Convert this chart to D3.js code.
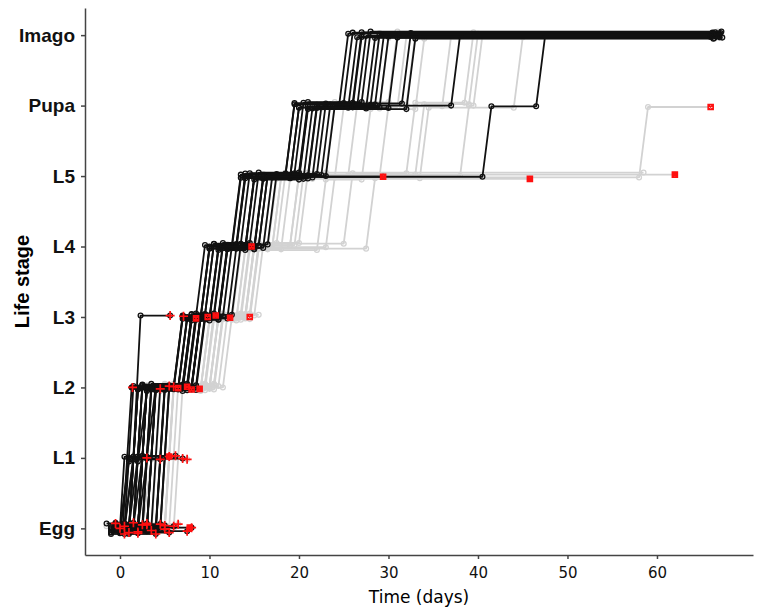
<!DOCTYPE html>
<html>
<head>
<meta charset="utf-8">
<script src="https://cdn.jsdelivr.net/npm/d3@7"></script>
<style>
  body { margin: 0; background: #fff; }
  svg { display: block; }
  .axis path, .axis line { stroke: #444; stroke-width: 1.5; }
  .ylab text { font-family: "Liberation Sans", Arial, sans-serif; font-size: 19px; font-weight: bold; fill: #111; }
  .xlab text { font-family: "DejaVu Sans", Verdana, sans-serif; font-size: 15px; fill: #111; }
</style>
</head>
<body>
<div id="chart"></div>
<script>
// life stages on the y axis, days on the x axis
const stageNames = ["Egg", "L1", "L2", "L3", "L4", "L5", "Pupa", "Imago"];
const dayTicks = [0, 10, 20, 30, 40, 50, 60];

// each record: p = [day first seen, stage] pairs, end = last day seen,
// dead = death marker ("" if alive at end), o = small vertical scatter of the record
const blackRuns = [
  {p: [[-1,0],[1.5,2],[7,3],[9.5,4],[13.5,5],[19.5,6],[25.5,7]], end: 66.8, dead: "", o: 0.02},
  {p: [[-0.5,0],[2,2],[7.5,3],[10,4],[14,5],[20,6],[26.5,7]], end: 67.0, dead: "", o: -0.03},
  {p: [[0,0],[2.5,2],[8,3],[10.5,4],[14.5,5],[20.5,6],[27,7]], end: 66.5, dead: "", o: 0.04},
  {p: [[0.5,0],[3,2],[8,3],[11,4],[15,5],[21,6],[27.5,7]], end: 66.9, dead: "", o: -0.01},
  {p: [[-0.5,0],[3.5,2],[8.5,3],[11.5,4],[15.5,5],[21,6],[28,7]], end: 67.2, dead: "", o: 0.05},
  {p: [[0,0],[4,2],[8.5,3],[12,4],[16,5],[21.5,6],[28.5,7]], end: 66.4, dead: "", o: -0.04},
  {p: [[1,0],[4.5,2],[9,3],[12.5,4],[16.5,5],[22,6],[29,7]], end: 67.0, dead: "", o: 0.01},
  {p: [[0.5,0],[5,2],[9,3],[13,4],[17,5],[22.5,6],[30,7]], end: 66.6, dead: "", o: -0.02},
  {p: [[1,0],[5.5,2],[9.5,3],[13.5,4],[17.5,5],[23,6],[32.5,7]], end: 67.1, dead: "", o: 0.03},
  {p: [[-1,0],[1,1],[3,2],[8,3],[11,4],[15,5],[21,6],[33,7]], end: 66.3, dead: "", o: -0.05},
  {p: [[0,0],[2,2],[7.5,3],[10,4],[14,5],[24,6],[38,7]], end: 66.8, dead: "", o: 0.0},
  {p: [[0.5,0],[3,2],[8,3],[11,4],[15,5],[41.5,6],[47.5,7]], end: 66.9, dead: "", o: -0.01},
  {p: [[-0.5,0],[2.5,2],[8,3],[10.5,4],[14,5],[19.5,6],[26,7]], end: 66.2, dead: "", o: 0.035},
  {p: [[1.5,0],[5,2],[9.5,3],[12,4],[16,5],[22,6],[31,7]], end: 67.3, dead: "", o: -0.035},
  {p: [[0,0],[0.5,1],[4,2],[9,3],[12,4],[16.5,5],[23.5,6],[29.5,7]], end: 66.7, dead: "", o: 0.015},
  {p: [[-1,0],[2,2],[7,3],[10,4],[13.5,5],[20,6],[27,7]], end: 66.0, dead: "", o: -0.025},
  {p: [[0,0],[3,2],[8.5,3],[12,4],[16,5]], end: 29.4, dead: "x", o: -0.01},
  {p: [[0.5,0],[4,2],[9,3],[11.5,4]], end: 14.7, dead: "x", o: 0.0},
  {p: [[-0.5,0],[1.5,1],[2.3,3]], end: 5.6, dead: "+", o: 0.02},
  {p: [[-0.5,0],[3,2],[7,3]], end: 7.1, dead: "+", o: 0.01},
  {p: [[0,0],[3.5,2],[7.5,3]], end: 8.5, dead: "x", o: -0.02},
  {p: [[1,0],[4,2],[8,3]], end: 9.8, dead: "x", o: 0.0},
  {p: [[0.5,0],[5,2],[8.5,3]], end: 10.7, dead: "x", o: 0.02},
  {p: [[1,0],[5.5,2],[9,3]], end: 12.3, dead: "x", o: -0.01},
  {p: [[-1,0],[1.3,2]], end: 1.4, dead: "+", o: 0.0},
  {p: [[-0.5,0],[2,2]], end: 4.5, dead: "+", o: -0.02},
  {p: [[0,0],[2.5,2]], end: 5.5, dead: "+", o: 0.02},
  {p: [[0.5,0],[3,2]], end: 6.5, dead: "x", o: -0.01},
  {p: [[1,0],[4,2]], end: 7.5, dead: "x", o: 0.01},
  {p: [[0,0],[3.5,2]], end: 8.0, dead: "x", o: -0.03},
  {p: [[-0.5,0],[1,1]], end: 3.0, dead: "+", o: 0.0},
  {p: [[0,0],[1.5,1]], end: 4.5, dead: "+", o: -0.02},
  {p: [[0.5,0],[2,1]], end: 5.5, dead: "x", o: 0.02},
  {p: [[1,0],[3,1]], end: 7.0, dead: "+", o: -0.01},
  {p: [[0,0],[2.5,1]], end: 6.2, dead: "+", o: 0.03},
  {p: [[-1,0]], end: 0.0, dead: "+", o: 0.0},
  {p: [[-1,0]], end: 1.0, dead: "+", o: -0.06},
  {p: [[-0.5,0]], end: 2.5, dead: "+", o: 0.05},
  {p: [[0,0]], end: 3.5, dead: "+", o: -0.03},
  {p: [[0.5,0]], end: 4.5, dead: "+", o: 0.06},
  {p: [[0,0]], end: 5.5, dead: "+", o: -0.06},
  {p: [[1,0]], end: 6.0, dead: "+", o: 0.03},
  {p: [[1.5,0]], end: 7.5, dead: "+", o: -0.04},
  {p: [[2,0]], end: 8.0, dead: "+", o: 0.01},
  {p: [[-1.5,0]], end: -0.5, dead: "+", o: 0.07},
  {p: [[-1,0]], end: 0.5, dead: "+", o: -0.08},
  {p: [[-0.5,0]], end: 1.5, dead: "+", o: 0.08},
  {p: [[0,0]], end: 2.0, dead: "+", o: -0.07},
  {p: [[0.5,0]], end: 3.0, dead: "+", o: 0.07},
  {p: [[1,0]], end: 4.0, dead: "+", o: -0.08},
  {p: [[1.5,0]], end: 5.0, dead: "+", o: 0.04}
];

const greyRuns = [
  {p: [[-0.5,0],[3,2],[9,3],[12,4],[16,5],[21,6],[29,7]], end: 66.5, dead: "", o: 0.03},
  {p: [[0,0],[4,2],[10,3],[13.5,4],[17.5,5],[22.5,6],[30,7]], end: 67.0, dead: "", o: -0.04},
  {p: [[0.5,0],[5,2],[10.5,3],[14.5,4],[18.5,5],[24,6],[31,7]], end: 66.8, dead: "", o: 0.05},
  {p: [[1,0],[5.5,2],[11,3],[15,4],[18,5],[25,6],[32,7]], end: 66.7, dead: "", o: -0.02},
  {p: [[1.5,0],[6,2],[11,3],[15.5,4],[20,5],[26.5,6],[33,7]], end: 67.2, dead: "", o: 0.01},
  {p: [[0,0],[4.5,2],[10,3],[14,4],[23,5],[28,6],[34,7]], end: 66.4, dead: "", o: -0.05},
  {p: [[0.5,0],[5,2],[10.5,3],[15,4],[26,5],[33,6],[39.5,7]], end: 66.9, dead: "", o: 0.04},
  {p: [[1,0],[6,2],[11.5,3],[15.5,4],[28.5,5],[34.5,6],[45,7]], end: 67.1, dead: "", o: -0.03},
  {p: [[-1,0],[2.5,2],[9.5,3],[12.5,4],[17,5],[39,6],[40.5,7]], end: 66.6, dead: "", o: 0.0},
  {p: [[1,0],[6.5,2],[12,3],[16,4],[20.5,5],[34,6],[40,7]], end: 66.1, dead: "", o: 0.02},
  {p: [[0.5,0],[5.5,2],[11,3],[15,4],[24,5],[30,6],[37,7]], end: 66.9, dead: "", o: -0.01},
  {p: [[0,0],[4,2],[10,3],[14,4],[18,5],[59,6]], end: 66.0, dead: "x", o: -0.02},
  {p: [[1,0],[5,2],[11,3],[15,4],[20,5]], end: 62.0, dead: "x", o: 0.02},
  {p: [[0.5,0],[4.5,2],[10.5,3],[14.5,4],[19,5]], end: 45.8, dead: "x", o: -0.04},
  {p: [[1,0],[6,2],[11.5,3],[15.5,4],[21,5]], end: 58.5, dead: "", o: 0.05},
  {p: [[1.5,0],[7,2],[12.5,3]], end: 14.5, dead: "x", o: 0.0},
  {p: [[1,0],[6,2],[11.5,3]], end: 15.5, dead: "", o: 0.03},
  {p: [[0.5,0],[5,2]], end: 10.6, dead: "", o: 0.03},
  {p: [[1,0],[5.5,2]], end: 8.9, dead: "x", o: -0.02},
  {p: [[0,0],[4,2]], end: 6.0, dead: "+", o: 0.01},
  {p: [[0,0],[2,1]], end: 5.5, dead: "+", o: 0.02},
  {p: [[1,0],[3.5,1]], end: 7.5, dead: "+", o: -0.02},
  {p: [[-1.5,0]], end: 0.5, dead: "+", o: 0.03},
  {p: [[-1,0]], end: 2.0, dead: "+", o: -0.05},
  {p: [[0,0]], end: 3.0, dead: "+", o: 0.05},
  {p: [[0.5,0]], end: 5.0, dead: "+", o: -0.01},
  {p: [[1,0]], end: 6.5, dead: "+", o: 0.06},
  {p: [[2.5,0]], end: 7.8, dead: "x", o: 0.01}
];

// dimensions
const margin = {top: 8, right: 9, bottom: 58, left: 85},
      width = 762 - margin.left - margin.right,
      height = 613 - margin.top - margin.bottom;

const svg = d3.select("#chart")
  .append("svg")
    .attr("width", 762)
    .attr("height", 613)
  .append("g")
    .attr("transform", `translate(${margin.left},${margin.top})`);

const x = d3.scaleLinear().domain([-3.91, 70.73]).range([0, width]);
const y = d3.scaleLinear().domain([-0.378, 7.385]).range([height, 0]);

// a record becomes a stepped path: flat while in a stage, then a short climb
const lag = 1.0;
function runPoints(r) {
  const pts = [];
  r.p.forEach((s, i) => {
    const next = i < r.p.length - 1 ? r.p[i + 1][0] - lag : r.end;
    pts.push([s[0], s[1]]);
    if (next > s[0]) pts.push([next, s[1]]);
  });
  return pts;
}

const line = d3.line()
  .x(d => x(d[0]))
  .y(d => y(d[1]));

function drawRuns(runs, colour, cls) {
  const g = svg.append("g").attr("class", cls);
  runs.forEach(r => {
    const pts = runPoints(r).map(d => [d[0], d[1] + r.o]);
    g.append("path")
      .attr("d", line(pts))
      .attr("fill", "none")
      .attr("stroke", colour)
      .attr("stroke-width", 1.8)
      .attr("stroke-linejoin", "round");
    g.selectAll(null)
      .data(pts)
      .join("circle")
        .attr("cx", d => x(d[0]))
        .attr("cy", d => y(d[1]))
        .attr("r", 2.4)
        .attr("fill", "none")
        .attr("stroke", colour)
        .attr("stroke-width", 1.3);
  });
}

drawRuns(greyRuns, "#d2d2d2", "grey");
drawRuns(blackRuns, "#111", "black");

// death markers
const deaths = blackRuns.concat(greyRuns).filter(r => r.dead !== "")
  .map(r => ({day: r.end, stage: r.p[r.p.length - 1][1] + r.o, kind: r.dead}));

svg.append("g")
  .selectAll("path")
  .data(deaths)
  .join("path")
    .attr("transform", d => `translate(${x(d.day)},${y(d.stage)})`)
    .attr("d", d => d.kind === "+" ? "M-4.5,0H4.5M0,-4.5V4.5" : "M-2.5,-2.5L2.5,2.5M-2.5,2.5L2.5,-2.5M-2.5,-2.5H2.5V2.5H-2.5Z")
    .attr("fill", "none")
    .attr("stroke", "#ff1010")
    .attr("stroke-width", d => d.kind === "+" ? 1.7 : 1.6);

// axes
svg.append("g")
  .attr("class", "axis ylab")
  .call(d3.axisLeft(y)
    .tickValues(d3.range(stageNames.length))
    .tickFormat(i => stageNames[i])
    .tickSize(4)
    .tickSizeOuter(0))
  .call(g => g.selectAll("text").attr("dx", "-3px"));

svg.append("g")
  .attr("class", "axis xlab")
  .attr("transform", `translate(0,${height})`)
  .call(d3.axisBottom(x)
    .tickValues(dayTicks)
    .tickSize(4)
    .tickSizeOuter(0))
  .call(g => g.selectAll("text").attr("dy", "1.05em"));

svg.append("text")
  .attr("x", width / 2)
  .attr("y", height + 48)
  .attr("text-anchor", "middle")
  .style("font-family", "DejaVu Sans, Verdana, sans-serif")
  .style("font-size", "17px")
  .text("Time (days)");

svg.append("text")
  .attr("transform", `translate(${-56},${height / 2}) rotate(-90)`)
  .attr("text-anchor", "middle")
  .style("font-family", "Liberation Sans, Arial, sans-serif")
  .style("font-size", "20px")
  .style("font-weight", "bold")
  .text("Life stage");
</script>
</body>
</html>
